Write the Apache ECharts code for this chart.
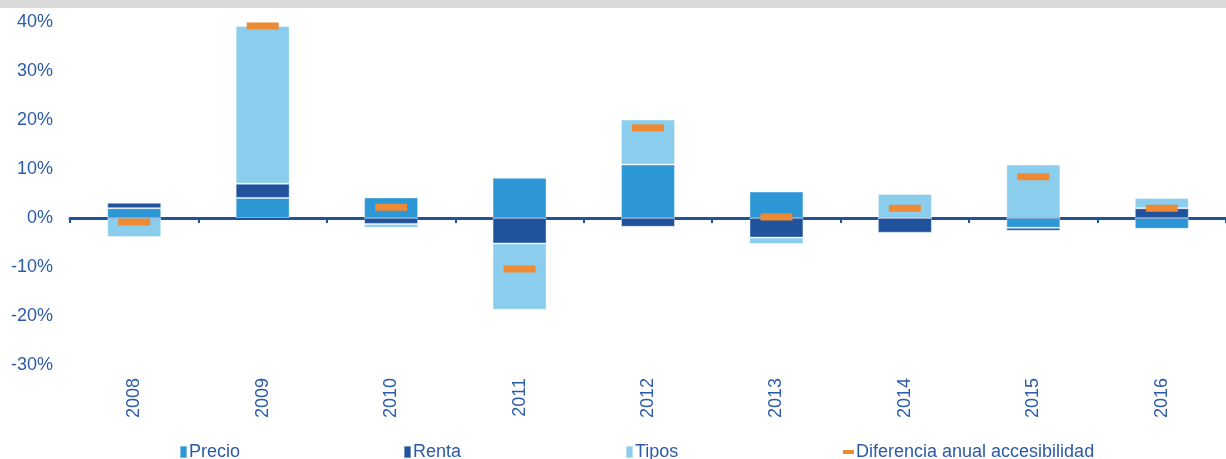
<!DOCTYPE html>
<html>
<head>
<meta charset="utf-8">
<script src="https://cdn.jsdelivr.net/npm/echarts@6/dist/echarts.min.js"></script>
<style>
  html, body { margin: 0; padding: 0; background: #fff; }
  #chart { width: 1226px; height: 459px; }
</style>
</head>
<body>
<div id="chart"></div>
<script>
var years = ["2008", "2009", "2010", "2011", "2012", "2013", "2014", "2015", "2016"];
var precio = [2.0, 4.1, 4.2, 8.2, 10.9, 5.4, 0, -2.0, -2.2];
var renta = [1.1, 2.9, -1.2, -5.2, -1.8, -4.0, -3.0, -0.6, 2.0];
var tipos = [-3.9, 32.2, -0.8, -13.5, 9.2, -1.3, 4.9, 10.9, 2.1];
var diferencia = [-0.8, 39.2, 2.2, -10.4, 18.4, 0.2, 2.0, 8.4, 2.0];

var textColor = "#2B5BA8";
var font = "'Liberation Sans', Arial, sans-serif";

var chart = echarts.init(document.getElementById("chart"));

// one legend per item so the starts line up like the original
function legendAt(left, name, w, h) {
  return {
    left: left,
    top: 438,
    itemWidth: w,
    itemHeight: h,
    icon: "rect",
    textStyle: { color: textColor, fontSize: 18, fontFamily: font, padding: [0, 0, 0, -3] },
    data: [name]
  };
}

var option = {
  backgroundColor: "#fff",
  animation: false,
  graphic: [{
    type: "rect",
    shape: { x: 0, y: 0, width: 1226, height: 8 },
    style: { fill: "#D9D9D9" }
  }],
  legend: [
    legendAt(174, "Precio", 7, 12),
    legendAt(398, "Renta", 7, 12),
    legendAt(620, "Tipos", 7, 12),
    legendAt(838, "Diferencia anual accesibilidad", 11, 4)
  ],
  grid: { left: 70, top: 22, width: 1164, height: 343 },
  xAxis: [
    {
      type: "category",
      data: years,
      position: "bottom",
      axisLine: { onZero: true, lineStyle: { color: "#21539C", width: 3 } },
      axisTick: { show: true, length: 5, interval: 0, lineStyle: { color: "#21539C", width: 2 } },
      axisLabel: { show: false }
    },
    {
      type: "category",
      data: years,
      position: "bottom",
      axisLine: { show: false, onZero: false },
      axisTick: { show: false },
      axisLabel: {
        rotate: 90,
        margin: 13,
        interval: 0,
        color: textColor,
        fontSize: 18,
        fontFamily: font
      }
    }
  ],
  yAxis: {
    type: "value",
    min: -30,
    max: 40,
    interval: 10,
    splitLine: { show: false },
    axisLine: { show: false },
    axisTick: { show: false },
    axisLabel: {
      formatter: "{value}%",
      margin: 17,
      color: textColor,
      fontSize: 18,
      fontFamily: font
    }
  },
  series: [
    {
      name: "Precio",
      type: "bar",
      stack: "total",
      barWidth: 54,
      itemStyle: { color: "#2D96D5", borderColor: "rgba(255,255,255,0.4)", borderWidth: 1 },
      data: precio
    },
    {
      name: "Renta",
      type: "bar",
      stack: "total",
      barWidth: 54,
      itemStyle: { color: "#21539C", borderColor: "rgba(255,255,255,0.4)", borderWidth: 1 },
      data: renta
    },
    {
      name: "Tipos",
      type: "bar",
      stack: "total",
      barWidth: 54,
      itemStyle: { color: "#8BCDED", borderColor: "rgba(255,255,255,0.4)", borderWidth: 1 },
      data: tipos
    },
    {
      name: "Diferencia anual accesibilidad",
      type: "scatter",
      symbol: "rect",
      symbolSize: [32, 7],
      z: 5,
      itemStyle: { color: "#EE8A33", opacity: 1 },
      data: diferencia
    }
  ]
};
chart.setOption(option);
</script>
</body>
</html>
